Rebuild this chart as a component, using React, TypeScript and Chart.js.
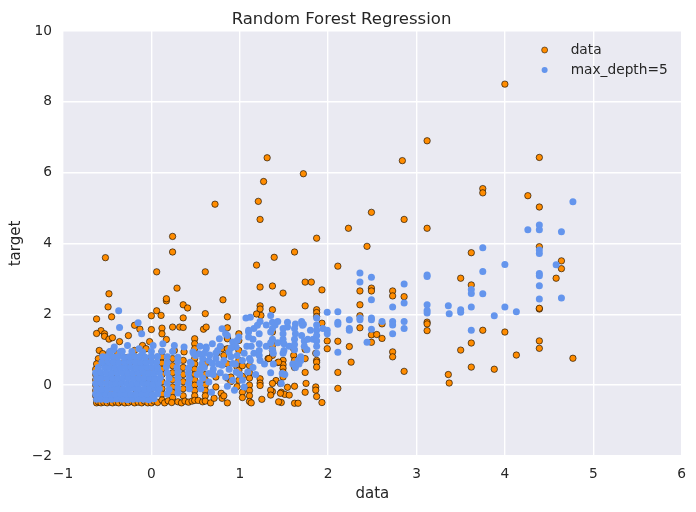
// App.tsx
import { useEffect, useRef } from "react";
import { Chart, registerables } from "chart.js";
import type { ChartConfiguration, Plugin } from "chart.js";

Chart.register(...registerables);

const TITLE = "Random Forest Regression";
const X_LABEL = "data";
const Y_LABEL = "target";
const X_RANGE = [-1, 6];
const Y_RANGE = [-2, 10];

// "data" points, left dense clump (x < 0.1)
const dataDense: [number, number][] = [
  [-0.52, 3.6], [-0.48, 2.58], [-0.49, 2.21], [-0.45, 1.93], [-0.62, 1.87], [-0.19, 1.69], [-0.13, 1.58],
  [-0.57, 1.54], [-0.62, 1.46], [-0.53, 1.45], [-0.26, 1.4], [-0.53, 1.38], [-0.48, 1.3], [-0.44, 1.34],
  [-0.36, 1.23], [-0.02, 1.23], [0.0, 1.57], [0.0, 1.96], [0.06, 2.1], [0.06, 3.2], [-0.59, 0.98],
  [-0.55, 0.89], [-0.47, 0.94], [-0.38, 0.89], [-0.19, 0.98], [-0.1, 1.12], [-0.06, 1.03],
  [-0.6, 0.75], [-0.56, 0.65], [-0.52, 0.7], [-0.5, 0.55], [-0.45, 0.62], [-0.41, 0.72], [-0.33, 0.6],
  [-0.3, 0.78], [-0.27, 0.52], [-0.22, 0.66], [-0.16, 0.58], [-0.13, 0.8], [-0.09, 0.5], [-0.05, 0.7],
  [-0.03, 0.4], [0.0, 0.8], [0.0, 0.45],
  [-0.58, 0.3], [-0.55, 0.1], [-0.52, -0.1], [-0.49, 0.2], [-0.46, -0.2], [-0.43, 0.05], [-0.4, 0.35],
  [-0.38, -0.1], [-0.34, 0.15], [-0.31, -0.25], [-0.28, 0.25], [-0.24, 0.0], [-0.2, 0.3], [-0.17, -0.15],
  [-0.14, 0.1], [-0.1, 0.25], [-0.07, -0.2], [-0.04, 0.05], [0.0, -0.1], [0.0, -0.3],
  [-0.63, 0.45], [-0.63, 0.3], [-0.63, 0.15], [-0.63, 0.0], [-0.63, -0.15], [-0.63, -0.3], [-0.62, 0.6],
  [-0.61, 0.2], [-0.6, -0.1], [-0.62, -0.4],
  [-0.62, -0.5], [-0.6, -0.47], [-0.57, -0.5], [-0.54, -0.48], [-0.5, -0.5], [-0.47, -0.46], [-0.44, -0.5],
  [-0.4, -0.48], [-0.37, -0.5], [-0.33, -0.47], [-0.3, -0.5], [-0.26, -0.49], [-0.22, -0.46], [-0.19, -0.5],
  [-0.15, -0.48], [-0.11, -0.5], [-0.08, -0.45], [-0.04, -0.5], [0.0, -0.5], [-0.56, -0.35], [-0.45, -0.38],
  [-0.35, -0.33], [-0.25, -0.36], [-0.12, -0.32], [-0.02, -0.38],
];

// "data" points in the stacked columns, 0 < x < 1.15
const dataColumns: [number, number][] = [
  [0.03, -0.45], [0.07, -0.49],
  [0.12, 1.61], [0.12, 1.45], [0.11, 1.97], [0.12, 0.95], [0.12, 0.8], [0.12, 0.62], [0.12, 0.45], [0.12, 0.3],
  [0.12, 0.1], [0.12, -0.1], [0.12, -0.25], [0.12, -0.42], [0.15, -0.5],
  [0.17, 2.38], [0.17, 2.44], [0.17, 1.29], [0.19, -0.44],
  [0.24, 4.2], [0.24, 3.76], [0.24, 1.64], [0.26, 0.98], [0.24, 0.75], [0.24, 0.55], [0.24, 0.35], [0.24, 0.15],
  [0.24, -0.05], [0.24, -0.2], [0.24, -0.35], [0.23, -0.49],
  [0.29, 2.74], [0.32, 1.64], [0.3, -0.47], [0.34, -0.5],
  [0.36, 2.27], [0.41, 2.18], [0.36, 1.9], [0.36, 1.63], [0.37, 0.94], [0.36, 0.7], [0.36, 0.5], [0.36, 0.3],
  [0.36, 0.1], [0.36, -0.1], [0.36, -0.3], [0.38, -0.45], [0.42, -0.48], [0.46, -0.45],
  [0.49, 1.31], [0.49, 1.17], [0.49, 1.03], [0.49, 0.88], [0.49, 0.75], [0.49, 0.6], [0.49, 0.45], [0.49, 0.3],
  [0.49, 0.15], [0.49, 0.0], [0.49, -0.15], [0.49, -0.3], [0.49, -0.43], [0.53, -0.43], [0.58, -0.47],
  [0.61, 3.2], [0.61, 2.02], [0.59, 1.58], [0.62, 1.64], [0.61, 0.6], [0.61, 0.3], [0.61, 0.15], [0.61, 0.0],
  [0.61, -0.15], [0.61, -0.3], [0.61, -0.45], [0.67, -0.5],
  [0.72, 5.11], [0.74, 0.9], [0.73, 0.23], [0.73, -0.05], [0.79, -0.23], [0.8, -0.37], [0.71, -0.37],
  [0.81, 2.41], [0.86, 1.93], [0.86, 1.62], [0.86, 1.34], [0.86, 1.31], [0.8, 1.03], [0.86, 1.03], [0.82, 0.84],
  [0.86, 0.6], [0.86, 0.2], [0.86, -0.5], [0.82, -0.3],
  [0.9, 0.23], [0.9, 0.1], [0.97, 0.5], [0.97, 0.37], [0.97, -0.04],
  [0.99, 1.45], [0.99, 1.26], [0.99, 0.98], [0.99, 0.7], [0.99, 0.42], [0.99, 0.14],
  [1.03, 0.55], [1.03, 0.25], [1.03, -0.2], [1.03, -0.35],
  [1.11, 0.55], [1.11, 0.35], [1.11, 0.2], [1.11, 0.0], [1.11, -0.15], [1.11, -0.3], [1.11, -0.46],
];

// "data" points, spread out to the right (x > 1.1)
const dataSpread: [number, number][] = [
  [1.19, 3.39], [1.21, 5.19], [1.23, 4.68], [1.27, 5.75], [1.31, 6.42], [1.39, 3.61], [1.62, 3.76], [1.72, 5.97],
  [1.87, 4.15],
  [1.23, 2.77], [1.37, 2.8], [1.49, 2.6], [1.74, 2.91], [1.81, 2.91], [1.93, 2.69], [1.23, 2.24], [1.23, 2.15],
  [1.37, 2.13], [1.74, 2.24], [1.87, 2.13], [1.87, 2.05], [1.87, 1.94], [1.24, 1.97], [1.19, 2.01], [1.93, 1.75],
  [1.37, 1.5], [1.37, 1.24], [1.37, 1.12], [1.37, 0.98], [1.37, 0.84], [1.32, 0.75], [1.43, 0.64], [1.49, 0.7],
  [1.49, 0.58], [1.49, 0.48], [1.49, 0.37], [1.49, 0.23], [1.33, 0.75], [1.44, 0.65], [1.61, 1.03], [1.61, 0.84],
  [1.62, 0.7], [1.62, 0.5], [1.74, 1.01], [1.74, 0.75], [1.74, 0.36], [1.86, 0.9], [1.87, 0.7], [1.87, 0.65],
  [1.87, 0.51], [1.99, 1.25], [1.99, 1.03],
  [1.23, 0.18], [1.23, 0.06], [1.23, -0.01], [1.41, 0.13], [1.37, 0.05], [1.37, -0.18], [1.35, -0.14],
  [1.35, -0.28], [1.47, -0.2], [1.51, -0.26], [1.54, -0.06], [1.46, 0.05], [1.46, -0.23], [1.56, -0.28],
  [1.47, -0.49], [1.44, -0.47], [1.62, -0.51], [1.66, -0.51], [1.62, -0.03], [1.74, -0.2], [1.75, 0.05],
  [1.86, -0.05], [1.86, -0.14], [1.87, -0.32], [1.93, -0.49], [1.25, -0.4], [1.13, -0.5],
  [2.11, -0.09], [2.11, 0.36], [2.11, 1.24], [2.24, 1.09], [2.26, 0.65], [2.11, 3.36], [2.23, 4.43],
  [2.44, 3.92], [2.49, 4.88], [2.36, 2.66], [2.49, 2.74], [2.49, 2.66], [2.73, 2.66], [2.73, 2.52], [2.86, 2.5],
  [2.36, 2.27], [2.36, 1.96], [2.61, 1.73], [3.12, 1.78], [3.12, 1.73], [3.12, 1.54], [2.36, 1.62], [2.49, 1.42],
  [2.49, 1.21], [2.55, 1.43], [2.61, 1.32], [2.73, 0.94], [2.73, 0.8], [2.86, 0.39], [3.36, 0.3],
  [2.84, 6.34], [2.86, 4.68], [3.12, 6.9], [3.12, 4.43],
  [4.0, 8.5], [4.39, 6.43], [3.75, 5.55], [3.75, 5.43], [4.26, 5.35], [4.39, 5.03], [3.62, 3.74], [4.39, 3.91],
  [4.64, 3.51], [4.64, 3.29], [3.5, 3.02], [4.58, 3.02], [3.62, 2.83], [4.39, 2.15], [4.39, 2.17], [3.75, 1.55],
  [4.0, 1.5], [3.62, 1.19], [3.5, 0.99], [4.39, 1.25], [4.39, 1.04], [4.13, 0.85], [4.77, 0.76], [3.62, 0.51],
  [3.88, 0.45], [3.37, 0.06],
];

// max_depth=5 predictions, dense clump (x < 0.6)
const predDense: [number, number][] = [
  [-0.37, 2.1], [-0.36, 1.63], [-0.15, 1.76], [-0.11, 1.45], [-0.42, 1.08], [-0.27, 1.12], [-0.14, 1.03],
  [0.02, 1.12], [0.13, 1.17], [0.26, 1.12], [0.37, 1.08], [0.48, 0.89], [-0.55, 0.8], [-0.43, 1.0], [-0.35, 0.95],
  [-0.62, -0.4], [-0.57, -0.4], [-0.51, -0.41], [-0.45, -0.4], [-0.39, -0.39], [-0.33, -0.4], [-0.27, -0.41],
  [-0.21, -0.4], [-0.15, -0.39], [-0.09, -0.4], [-0.03, -0.41], [0.03, -0.38],
  [-0.63, -0.25], [-0.58, -0.24], [-0.52, -0.25], [-0.46, -0.26], [-0.41, -0.25], [-0.35, -0.24], [-0.29, -0.25],
  [-0.23, -0.26], [-0.17, -0.25], [-0.11, -0.24], [-0.05, -0.25], [0.01, -0.26], [0.07, -0.24], [0.18, -0.25],
  [0.3, -0.22],
  [-0.62, -0.1], [-0.56, -0.11], [-0.5, -0.1], [-0.44, -0.09], [-0.38, -0.1], [-0.32, -0.11], [-0.26, -0.1],
  [-0.2, -0.09], [-0.14, -0.1], [-0.08, -0.11], [-0.02, -0.1], [0.04, -0.09], [0.09, -0.1], [0.2, -0.12],
  [0.3, -0.08], [0.43, -0.1],
  [-0.63, 0.05], [-0.57, 0.06], [-0.51, 0.05], [-0.45, 0.04], [-0.4, 0.05], [-0.34, 0.06], [-0.28, 0.05],
  [-0.22, 0.04], [-0.16, 0.05], [-0.1, 0.06], [-0.04, 0.05], [0.02, 0.04], [0.08, 0.06], [0.18, 0.05],
  [0.3, 0.07], [0.42, 0.04], [0.55, 0.06],
  [-0.62, 0.2], [-0.56, 0.21], [-0.5, 0.2], [-0.44, 0.19], [-0.38, 0.2], [-0.32, 0.21], [-0.26, 0.2],
  [-0.2, 0.19], [-0.14, 0.2], [-0.08, 0.21], [-0.02, 0.2], [0.04, 0.19], [0.1, 0.21], [0.2, 0.2], [0.3, 0.22],
  [0.43, 0.19],
  [-0.63, 0.35], [-0.57, 0.36], [-0.51, 0.35], [-0.45, 0.34], [-0.39, 0.35], [-0.33, 0.36], [-0.27, 0.35],
  [-0.21, 0.34], [-0.15, 0.35], [-0.09, 0.36], [-0.03, 0.35], [0.03, 0.34], [0.09, 0.36], [0.18, 0.35],
  [0.3, 0.37], [0.42, 0.34], [0.55, 0.35],
  [-0.6, 0.5], [-0.53, 0.51], [-0.47, 0.5], [-0.41, 0.49], [-0.35, 0.5], [-0.29, 0.51], [-0.23, 0.5],
  [-0.17, 0.49], [-0.11, 0.5], [-0.05, 0.51], [0.01, 0.5], [0.07, 0.49], [0.17, 0.52], [0.29, 0.5], [0.42, 0.48],
  [-0.56, 0.65], [-0.49, 0.66], [-0.43, 0.65], [-0.37, 0.64], [-0.3, 0.65], [-0.24, 0.66], [-0.18, 0.65],
  [-0.12, 0.64], [-0.06, 0.65], [0.0, 0.66], [0.06, 0.65], [0.18, 0.64], [0.3, 0.66], [0.44, 0.65],
  [-0.5, 0.8], [-0.44, 0.81], [-0.38, 0.8], [-0.31, 0.79], [-0.25, 0.8], [-0.19, 0.81], [-0.13, 0.8],
  [-0.07, 0.79], [0.0, 0.8], [0.07, 0.81], [0.18, 0.8], [0.3, 0.79],
  [-0.47, 0.95], [-0.33, 0.96], [-0.22, 0.95], [-0.1, 0.94], [0.0, 0.95], [0.12, 0.96], [0.24, 0.95],
];

// max_depth=5 predictions, 0.45 < x < 1.15
const predMid: [number, number][] = [
  [0.8, 1.59], [0.84, 1.45], [0.77, 1.31], [0.92, 1.22], [0.99, 1.36], [0.96, 1.08], [0.88, 0.94], [0.97, 0.84],
  [1.03, 0.7], [1.11, 0.75], [0.92, 0.61], [0.8, 0.56], [0.69, 0.61], [0.65, 0.7], [0.58, 0.75], [0.54, 0.89],
  [0.5, 0.84], [0.47, 0.94], [0.45, 0.61], [0.65, 0.33], [0.84, 0.23], [0.92, 0.14], [1.09, 0.37], [0.96, 0.37],
  [1.05, -0.05], [1.03, 0.14], [0.86, -0.03], [0.94, -0.14], [0.65, 0.09], [0.73, 0.75], [0.62, 1.08],
  [0.69, 1.17], [0.75, 0.98], [0.62, 1.03], [0.73, 0.91], [0.86, 1.4], [0.97, 1.26], [1.07, 1.9], [1.12, 1.92],
  [0.55, 0.45], [0.58, 0.2], [0.7, 0.45], [0.78, 0.35], [0.56, -0.1], [0.68, -0.2],
  [0.52, 0.3], [0.57, 0.6], [0.6, 0.5], [0.66, 0.85], [0.7, 0.3], [0.76, 0.6], [0.82, 0.7], [0.88, 0.45],
  [0.9, 0.8], [0.95, 0.6], [1.0, 0.3], [1.05, 0.9], [1.08, 1.1], [0.78, 1.1], [0.9, 1.05], [0.55, 1.1],
  [0.6, 0.9],
];

// max_depth=5 predictions, x > 1.05
const predSpread: [number, number][] = [
  [1.1, 1.5], [1.16, 1.6], [1.15, 1.3], [1.13, 1.1], [1.16, 0.9], [1.12, 0.7], [1.15, 0.5], [1.18, 0.3],
  [1.1, 1.55], [1.1, 1.36],
  [1.23, 1.8], [1.22, 1.45], [1.22, 1.17], [1.22, 0.98], [1.22, 0.84], [1.23, 0.7], [1.2, 1.69],
  [1.3, 1.7], [1.3, 1.1], [1.28, 0.6],
  [1.35, 1.97], [1.37, 1.78], [1.4, 1.7], [1.37, 1.6], [1.35, 1.5], [1.37, 1.3], [1.35, 1.2], [1.37, 1.0],
  [1.38, 0.9], [1.38, 0.6], [1.35, 0.35],
  [1.43, 1.8], [1.43, 1.2],
  [1.49, 1.6], [1.49, 1.45], [1.49, 1.3], [1.5, 1.17], [1.5, 0.98], [1.49, 0.9], [1.48, 0.33], [1.47, 0.05],
  [1.51, 0.3],
  [1.54, 1.64], [1.54, 1.78], [1.56, 1.1],
  [1.63, 1.73], [1.62, 1.6], [1.63, 1.45], [1.62, 1.3], [1.62, 1.15], [1.62, 1.0], [1.6, 0.6], [1.63, 0.5],
  [1.66, 0.7], [1.69, 0.8], [1.71, 1.69], [1.7, 1.8], [1.72, 1.72], [1.7, 1.4], [1.73, 1.25], [1.73, 1.1],
  [1.76, 1.0], [1.69, 0.7], [1.67, 0.6],
  [1.77, 1.3], [1.83, 1.3], [1.8, 1.55],
  [1.87, 1.9], [1.87, 1.7], [1.87, 1.55], [1.87, 1.4], [1.87, 1.25], [1.87, 1.1], [1.87, 0.9],
  [1.94, 1.6], [1.99, 2.06], [1.99, 1.55], [1.99, 1.45],
  [2.11, 2.07], [2.24, 1.85], [2.36, 1.9], [2.36, 1.85], [2.49, 1.9], [2.49, 1.85], [2.61, 1.8], [2.73, 1.8],
  [2.73, 1.7], [2.86, 1.8], [2.86, 1.6], [2.24, 1.6], [2.24, 1.55], [2.49, 1.58], [2.73, 1.45], [2.44, 1.21],
  [2.11, 0.93], [2.11, 1.78], [2.11, 1.72],
  [2.36, 3.17], [2.36, 2.91], [2.49, 3.05], [2.86, 2.86], [3.12, 3.11], [3.12, 3.07], [2.49, 2.41], [2.73, 2.21],
  [2.86, 2.32], [3.12, 2.27], [3.12, 2.11], [3.12, 2.04], [3.36, 2.24],
  [4.77, 5.18], [4.39, 4.52], [4.39, 4.39], [4.26, 4.39], [4.64, 4.33], [3.75, 3.88], [4.39, 3.82], [4.39, 3.72],
  [4.0, 3.41], [4.58, 3.4], [3.75, 3.21], [4.39, 3.15], [4.39, 3.09], [3.62, 2.7], [3.62, 2.59], [3.75, 2.58],
  [4.39, 2.81], [4.39, 2.43], [4.64, 2.46], [3.37, 2.02], [3.5, 2.13], [3.5, 2.06], [3.62, 2.21], [3.88, 1.96],
  [4.0, 2.21], [4.13, 2.07], [3.62, 1.55],
];

const ORANGE = "#ff8c00";
const BLUE = "#6495ed";
const TEXT = "#262626";
const FONT = "'DejaVu Sans', sans-serif";

const toXY = (pts: [number, number][]) => pts.map(([x, y]) => ({ x, y }));
const minus = (v: number | string) => String(v).replace("-", "\u2212");

// grey plot background like seaborn darkgrid
const bgPlugin: Plugin = {
  id: "plotBg",
  beforeDraw(chart) {
    const { ctx, chartArea: a } = chart;
    ctx.save();
    ctx.fillStyle = "#eaeaf2";
    ctx.fillRect(a.left, a.top, a.right - a.left, a.bottom - a.top);
    ctx.restore();
  },
};

// legend sits inside the plot, top right
const legendPlugin: Plugin = {
  id: "innerLegend",
  afterDraw(chart) {
    const { ctx, chartArea: a } = chart;
    ctx.save();
    ctx.font = `13.75px ${FONT}`;
    ctx.textBaseline = "middle";
    ctx.textAlign = "left";
    chart.data.datasets.forEach((ds: any, i) => {
      const y = a.top + 19 + i * 20;
      const x = a.right - 137;
      ctx.beginPath();
      ctx.arc(x, y, 3, 0, Math.PI * 2);
      ctx.fillStyle = ds.backgroundColor;
      ctx.fill();
      if (ds.borderWidth) {
        ctx.lineWidth = 0.6;
        ctx.strokeStyle = ds.borderColor;
        ctx.stroke();
      }
      ctx.fillStyle = TEXT;
      ctx.fillText(ds.label, x + 26, y);
    });
    ctx.restore();
  },
};

export default function App() {
  const canvasRef = useRef<HTMLCanvasElement | null>(null);

  useEffect(() => {
    const ctx = canvasRef.current!.getContext("2d")!;
    Chart.defaults.font.family = FONT;
    Chart.defaults.color = TEXT;

    const config: ChartConfiguration<"scatter"> = {
      type: "scatter",
      data: {
        datasets: [
          {
            label: "data",
            data: toXY([...dataDense, ...dataColumns, ...dataSpread]),
            backgroundColor: ORANGE,
            borderColor: "rgba(0,0,0,0.85)",
            borderWidth: 0.7,
            pointRadius: 3.2,
            pointHoverRadius: 3.2,
            order: 2,
          },
          {
            label: "max_depth=5",
            data: toXY([...predDense, ...predMid, ...predSpread]),
            backgroundColor: BLUE,
            borderWidth: 0,
            pointRadius: 3.5,
            pointHoverRadius: 3.5,
            order: 1,
          },
        ],
      },
      options: {
        animation: false,
        responsive: true,
        maintainAspectRatio: false,
        layout: { padding: { left: 0, right: 13, top: 0, bottom: 0 } },
        plugins: {
          legend: { display: false },
          tooltip: { enabled: false },
          title: {
            display: true,
            text: TITLE,
            color: TEXT,
            font: { size: 16.5, weight: "normal" },
            padding: { top: 10, bottom: 1.2 },
          },
        },
        scales: {
          x: {
            type: "linear",
            min: X_RANGE[0],
            max: X_RANGE[1],
            grid: { color: "#ffffff", lineWidth: 1.4, drawTicks: false },
            border: { display: false },
            ticks: { stepSize: 1, padding: 10, color: TEXT, font: { size: 13.75 }, callback: (v) => minus(v) },
            title: { display: true, text: X_LABEL, color: TEXT, font: { size: 15 }, padding: { top: 0, bottom: 9 } },
            afterFit: (s) => {
              s.height = 56;
            },
          },
          y: {
            type: "linear",
            min: Y_RANGE[0],
            max: Y_RANGE[1],
            grid: { color: "#ffffff", lineWidth: 1.4, drawTicks: false },
            border: { display: false },
            ticks: { stepSize: 2, padding: 11, color: TEXT, font: { size: 13.75 }, callback: (v) => minus(v) },
            title: { display: true, text: Y_LABEL, color: TEXT, font: { size: 15 }, padding: { top: 7, bottom: 0 } },
            afterFit: (s) => {
              s.width = 63;
            },
          },
        },
      },
      plugins: [bgPlugin, legendPlugin],
    };

    const chart = new Chart(ctx, config);
    return () => chart.destroy();
  }, []);

  return (
    <div style={{ position: "absolute", left: 0, top: 0, width: 696, height: 512, background: "#fff" }}>
      <canvas ref={canvasRef} />
    </div>
  );
}
